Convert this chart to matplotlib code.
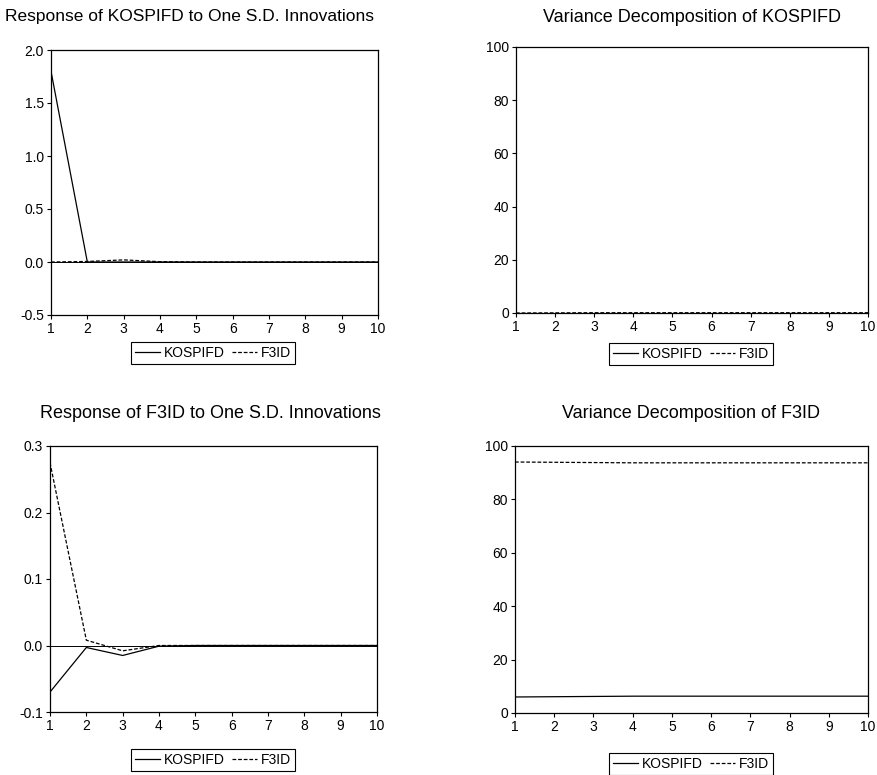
import matplotlib
matplotlib.use("Agg")
import matplotlib.pyplot as plt

plt.rcParams['font.family'] = ['Liberation Sans', 'DejaVu Sans']

periods = [1, 2, 3, 4, 5, 6, 7, 8, 9, 10]
series_names = ["KOSPIFD", "F3ID"]

# Response of KOSPIFD
irf_kospi_kospi = [1.80, 0.0, 0.0, 0.0, 0.0, 0.0, 0.0, 0.0, 0.0, 0.0]
irf_kospi_f3id = [0.0, 0.005, 0.02, 0.003, 0.0, 0.0, 0.0, 0.0, 0.0, 0.0]
# Variance decomposition of KOSPIFD
vd_kospi_kospi = [100.0, 99.95, 99.9, 99.9, 99.9, 99.9, 99.9, 99.9, 99.9, 99.9]
vd_kospi_f3id = [0.0, 0.05, 0.1, 0.1, 0.1, 0.1, 0.1, 0.1, 0.1, 0.1]
# Response of F3ID
irf_f3id_kospi = [-0.070, -0.003, -0.015, -0.001, 0.0, 0.0, 0.0, 0.0, 0.0, 0.0]
irf_f3id_f3id = [0.275, 0.008, -0.008, 0.0, 0.0, 0.0, 0.0, 0.0, 0.0, 0.0]
# Variance decomposition of F3ID
vd_f3id_kospi = [6.0, 6.1, 6.2, 6.3, 6.3, 6.3, 6.3, 6.3, 6.3, 6.3]
vd_f3id_f3id = [94.0, 93.9, 93.8, 93.7, 93.7, 93.7, 93.7, 93.7, 93.7, 93.7]

titles = ["Response of KOSPIFD to One S.D. Innovations",
          "Variance Decomposition of KOSPIFD",
          "Response of F3ID to One S.D. Innovations",
          "Variance Decomposition of F3ID"]

W, H = 878, 775
fig = plt.figure(figsize=(W / 100, H / 100), dpi=100)

def fx(px):
    return px / W

def fy(py):
    return 1 - py / H

# axes boxes in pixels: left, top, right, bottom
boxes = [(51, 50, 378, 315), (516, 47, 868, 313), (50, 446, 377, 712), (515, 446, 868, 713)]
title_pos = [(190, 17), (692, 18), (210, 413), (691, 413)]
title_size = [12.5, 13, 13, 13]
legend_pos = [(213, 353), (691, 354), (213, 760), (691, 764)]
data = [(irf_kospi_kospi, irf_kospi_f3id), (vd_kospi_kospi, vd_kospi_f3id),
        (irf_f3id_kospi, irf_f3id_f3id), (vd_f3id_kospi, vd_f3id_f3id)]
ylims = [(-0.5, 2.0), (0, 100), (-0.1, 0.3), (0, 100)]
yticks = [[-0.5, 0.0, 0.5, 1.0, 1.5, 2.0], [0, 20, 40, 60, 80, 100],
          [-0.1, 0.0, 0.1, 0.2, 0.3], [0, 20, 40, 60, 80, 100]]
yfmt = ["{:.1f}", "{:.0f}", "{:.1f}", "{:.0f}"]
zero_line = [True, False, True, False]

for i in range(4):
    l, t, r, b = boxes[i]
    ax = fig.add_axes([fx(l), fy(b), fx(r) - fx(l), fy(t) - fy(b)])
    s1, s2 = data[i]
    h1, = ax.plot(periods, s1, color='black', lw=0.9, ls='-', label=series_names[0])
    h2, = ax.plot(periods, s2, color='black', lw=0.9, ls=(0, (3, 1.5)), label=series_names[1])
    if zero_line[i]:
        ax.axhline(0, color='black', lw=0.7)
    ax.set_xlim(1, 10)
    ax.set_ylim(*ylims[i])
    ax.set_xticks(periods)
    ax.set_xticklabels([str(p) for p in periods], fontsize=10)
    ax.set_yticks(yticks[i])
    ax.set_yticklabels([yfmt[i].format(v) for v in yticks[i]], fontsize=10)
    ax.tick_params(direction='out', length=3, width=0.8, pad=2)
    for sp in ax.spines.values():
        sp.set_linewidth(0.9)
    tx, ty = title_pos[i]
    fig.text(fx(tx), fy(ty), titles[i], ha='center', va='center', fontsize=title_size[i])
    lx, ly = legend_pos[i]
    leg = fig.legend(handles=[h1, h2], loc='center', bbox_to_anchor=(fx(lx), fy(ly)),
                     ncol=2, fontsize=10, frameon=True, fancybox=False,
                     handlelength=1.8, handletextpad=0.3, columnspacing=0.5,
                     borderpad=0.3, borderaxespad=0, edgecolor='black', framealpha=1)
    leg.get_frame().set_linewidth(0.8)

fig.savefig("out.png", dpi=100)
